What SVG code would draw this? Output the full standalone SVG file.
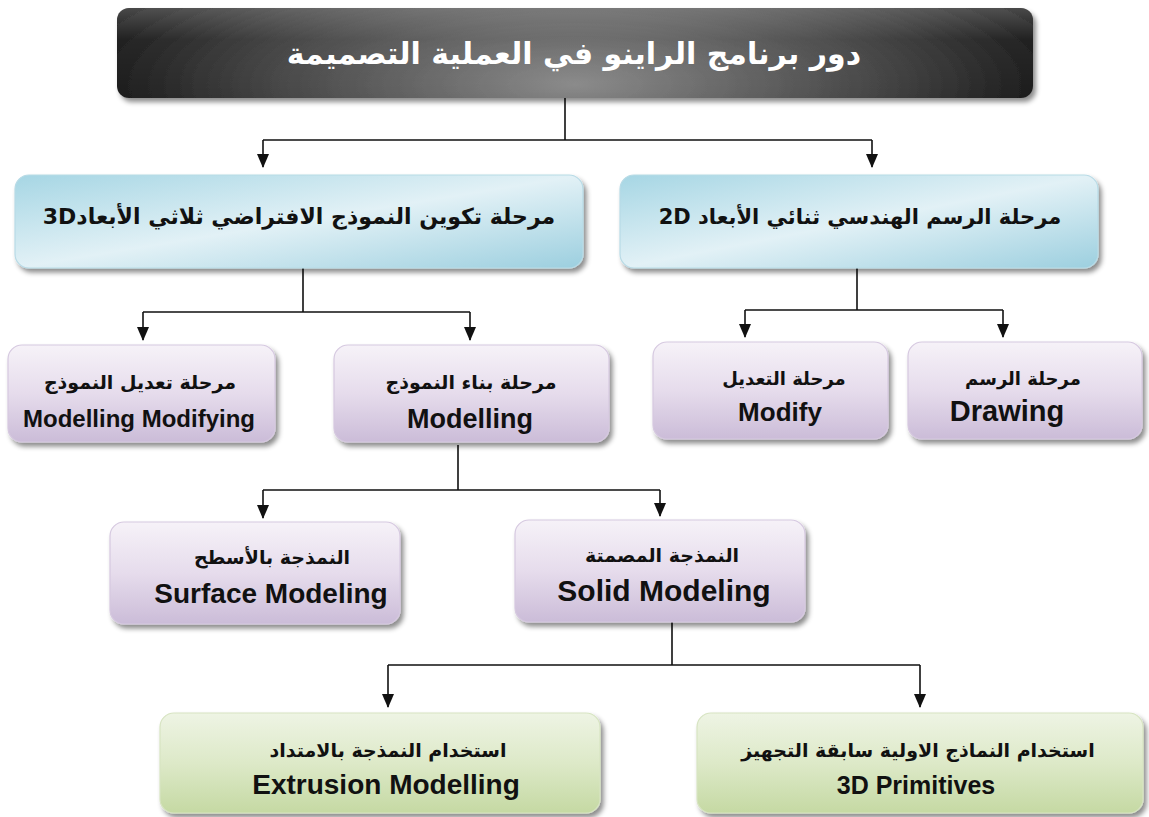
<svg xmlns="http://www.w3.org/2000/svg" width="1149" height="817" viewBox="0 0 1149 817">
<defs>
<style>
.ar{font-family:"DejaVu Sans","Noto Sans",sans-serif;font-weight:bold;fill:#111;text-anchor:middle;direction:rtl}
.en{font-family:"Liberation Sans",Arial,sans-serif;font-weight:bold;fill:#111;text-anchor:middle}
.ln{stroke:#111;stroke-width:1.6;fill:none}
.arr{stroke:#111;stroke-width:1.6;fill:none;marker-end:url(#ah)}
.blue{fill:url(#gb);stroke:#b8dbe6;stroke-width:1.2;filter:url(#sh)}
.pur{fill:url(#gp);stroke:#d6c9e0;stroke-width:1.2;filter:url(#sh)}
.grn{fill:url(#gg);stroke:#d7e4c2;stroke-width:1.2;filter:url(#sh)}
</style>
<marker id="ah" viewBox="0 0 14 12" refX="13" refY="6" markerWidth="14" markerHeight="12" markerUnits="userSpaceOnUse" orient="auto">
<path d="M0,0 L14,6 L0,12 Z" fill="#111"/>
</marker>
<filter id="sh" x="-5%" y="-10%" width="115%" height="130%">
<feDropShadow dx="3" dy="4" stdDeviation="2.5" flood-color="#000" flood-opacity="0.45"/>
</filter>
<radialGradient id="gt" cx="0.5" cy="0.85" r="0.6" gradientTransform="translate(0.5 0.85) scale(1 3) translate(-0.5 -0.85)">
<stop offset="0" stop-color="#8a8a8a"/>
<stop offset="0.55" stop-color="#444"/>
<stop offset="1" stop-color="#050505"/>
</radialGradient>
<linearGradient id="gtg" x1="0" y1="0" x2="0" y2="1">
<stop offset="0" stop-color="#fff" stop-opacity="0.25"/>
<stop offset="0.35" stop-color="#fff" stop-opacity="0.05"/>
<stop offset="1" stop-color="#fff" stop-opacity="0"/>
</linearGradient>
<linearGradient id="gb" x1="0" y1="0" x2="1" y2="1">
<stop offset="0" stop-color="#a6d6e4"/>
<stop offset="0.5" stop-color="#e2f1f6"/>
<stop offset="1" stop-color="#9ccfdf"/>
</linearGradient>
<linearGradient id="gp" x1="0" y1="0" x2="0" y2="1">
<stop offset="0" stop-color="#f6f2f8"/>
<stop offset="0.5" stop-color="#e6dcec"/>
<stop offset="1" stop-color="#cbbcd8"/>
</linearGradient>
<linearGradient id="gg" x1="0" y1="0" x2="0" y2="1">
<stop offset="0" stop-color="#eef4e4"/>
<stop offset="0.5" stop-color="#dde9c8"/>
<stop offset="1" stop-color="#c5d9a3"/>
</linearGradient>
</defs>
<rect width="1149" height="817" fill="#fff"/>

<g id="connectors">
<path class="ln" d="M565,98 V140 M263,140 H872"/>
<path class="arr" d="M263,140 V167"/>
<path class="arr" d="M872,140 V167"/>
<path class="ln" d="M303,268 V312 M143,312 H470"/>
<path class="arr" d="M143,312 V340"/>
<path class="arr" d="M470,312 V340"/>
<path class="ln" d="M857,268 V310 M745,310 H1003"/>
<path class="arr" d="M745,310 V337"/>
<path class="arr" d="M1003,310 V337"/>
<path class="ln" d="M458,445 V490 M263,490 H660"/>
<path class="arr" d="M263,490 V518"/>
<path class="arr" d="M660,490 V516"/>
<path class="ln" d="M672,622 V665 M388,665 H920"/>
<path class="arr" d="M388,665 V707"/>
<path class="arr" d="M920,665 V707"/>
</g>

<g id="title">
<rect x="117" y="8" width="916" height="90" rx="12" fill="url(#gt)" filter="url(#sh)"/>
<rect x="117" y="8" width="916" height="90" rx="12" fill="url(#gtg)"/>
<text x="574" y="64" class="ar" style="fill:#fff;font-size:30px">دور برنامج الراينو في العملية التصميمة</text>
</g>

<g id="n3d">
<rect class="blue" x="15" y="175" width="568" height="93" rx="14"/>
<text x="299" y="224" class="ar" style="font-size:22px">مرحلة تكوين النموذج الافتراضي ثلاثي الأبعاد3D</text>
</g>
<g id="n2d">
<rect class="blue" x="620" y="175" width="478" height="93" rx="14"/>
<text x="860" y="224" class="ar" style="font-size:21px">مرحلة الرسم الهندسي ثنائي الأبعاد 2D</text>
</g>

<g id="nModify3d">
<rect class="pur" x="8" y="345" width="267" height="97" rx="14"/>
<text x="140" y="389" class="ar" style="font-size:19px">مرحلة تعديل النموذج</text>
<text x="139" y="427" class="en" style="font-size:24px">Modelling Modifying</text>
</g>
<g id="nModelling">
<rect class="pur" x="334" y="345" width="275" height="97" rx="14"/>
<text x="471" y="389" class="ar" style="font-size:19px">مرحلة بناء النموذج</text>
<text x="470" y="428" class="en" style="font-size:27px">Modelling</text>
</g>
<g id="nModify">
<rect class="pur" x="653" y="342" width="235" height="97" rx="14"/>
<text x="784" y="385" class="ar" style="font-size:18px">مرحلة التعديل</text>
<text x="780" y="421" class="en" style="font-size:26px">Modify</text>
</g>
<g id="nDrawing">
<rect class="pur" x="908" y="342" width="234" height="97" rx="14"/>
<text x="1023" y="385" class="ar" style="font-size:18px">مرحلة الرسم</text>
<text x="1007" y="421" class="en" style="font-size:29px">Drawing</text>
</g>

<g id="nSurface">
<rect class="pur" x="110" y="522" width="290" height="102" rx="14"/>
<text x="272" y="564" class="ar" style="font-size:19px">النمذجة بالأسطح</text>
<text x="271" y="603" class="en" style="font-size:28px">Surface Modeling</text>
</g>
<g id="nSolid">
<rect class="pur" x="515" y="520" width="290" height="102" rx="14"/>
<text x="662" y="562" class="ar" style="font-size:19px">النمذجة المصمتة</text>
<text x="664" y="601" class="en" style="font-size:30px">Solid Modeling</text>
</g>

<g id="nExtrusion">
<rect class="grn" x="160" y="713" width="440" height="100" rx="14"/>
<text x="388" y="757" class="ar" style="font-size:19px">استخدام النمذجة بالامتداد</text>
<text x="386" y="794" class="en" style="font-size:28px">Extrusion Modelling</text>
</g>
<g id="nPrimitives">
<rect class="grn" x="697" y="713" width="446" height="100" rx="14"/>
<text x="918" y="757" class="ar" style="font-size:19px">استخدام النماذج الاولية سابقة التجهيز</text>
<text x="916" y="794" class="en" style="font-size:25px">3D Primitives</text>
</g>
</svg>
